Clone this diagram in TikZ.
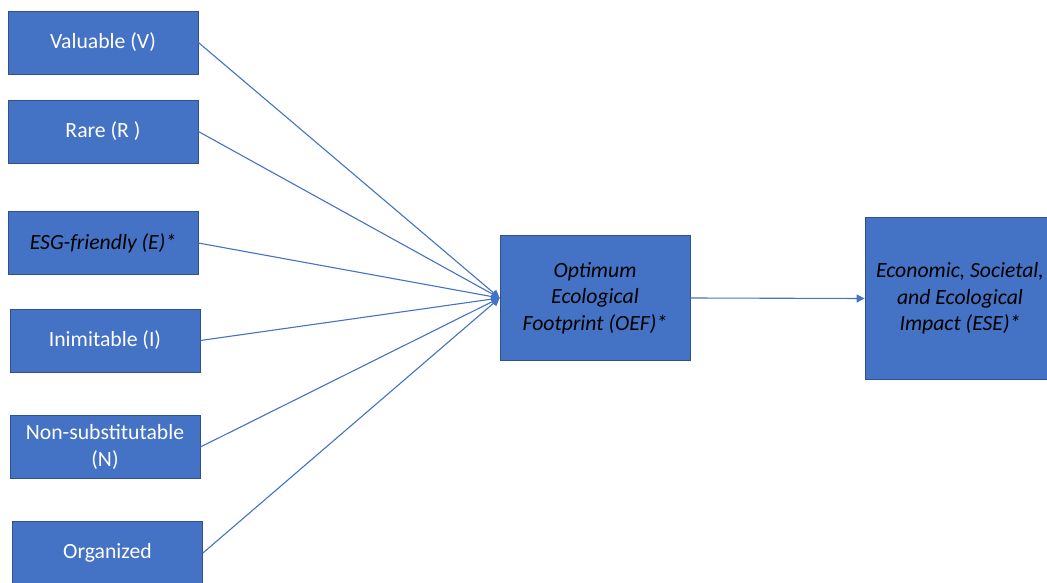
\documentclass[tikz,border=0pt]{standalone}
\usepackage{fontspec}
\setmainfont{Carlito}
\usepackage{xcolor}
\usetikzlibrary{positioning,arrows.meta}

\definecolor{boxfill}{HTML}{4472C4}
\definecolor{boxline}{HTML}{2F528F}

\begin{document}
\begin{tikzpicture}[x=1pt, y=-1pt,
    res/.style={draw=boxline, fill=boxfill, line width=0.8pt, minimum width=190pt,
        minimum height=63pt, inner sep=2pt, align=center, text=white,
        font=\fontsize{21.7}{26.5}\selectfont},
    outc/.style={res, text=black, font=\fontsize{21.7}{26.5}\selectfont\itshape},
    link/.style={draw=boxfill, line width=1.1pt, -{Triangle[length=8pt, width=8pt]}}]
    \useasboundingbox (0,0) rectangle (1047,583);

    % resource attributes
    \node[res] (val) at (103,42.5) {Valuable (V)};
    \node[res] (rare) at (103,131.5) {Rare (R )};
    \node[outc] (esg) at (103,243) {ESG-friendly (E)*};
    \node[res] (inim) at (105,340.5) {Inimitable (I)};
    \node[res] (nsub) at (105,447) {Non-substitutable\\(N)};
    \node[res] (org) at (107.5,553) {Organized};

    % footprint and impact
    \node[outc, minimum height=125pt] (oef) at (595,298) {Optimum\\Ecological\\Footprint (OEF)*};
    \node[outc, minimum height=162pt] (ese) at (960,298.5) {Economic, Societal,\\and Ecological\\Impact (ESE)*};

    \foreach \src in {val,rare,esg,inim,nsub,org}
        \draw[link] (\src.east) -- (oef.west);
    \draw[link] (oef.east) -- (ese.west);
\end{tikzpicture}
\end{document}
